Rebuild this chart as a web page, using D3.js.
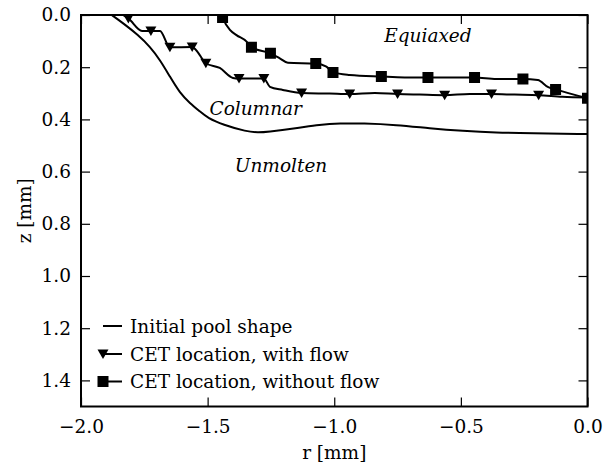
<!DOCTYPE html>
<html>
<head>
<meta charset="utf-8">
<script src="https://d3js.org/d3.v7.min.js"></script>
<style>
  body { margin: 0; background: #fff; }
  svg text { font-family: "DejaVu Serif", serif; fill: #000; }
</style>
</head>
<body>
<script>
// initial pool shape
var poolR = [-1.879, -1.833, -1.774, -1.728, -1.688, -1.649, -1.609, -1.570, -1.530, -1.499, -1.440, -1.346, -1.300, -1.267, -1.149, -1.057, -0.978, -0.888, -0.755, -0.623, -0.493, -0.360, -0.229, 0.0]
var poolZ = [0.000, 0.032, 0.077, 0.121, 0.172, 0.236, 0.300, 0.338, 0.370, 0.395, 0.420, 0.447, 0.450, 0.448, 0.434, 0.420, 0.415, 0.415, 0.421, 0.434, 0.444, 0.451, 0.453, 0.456]

// CET with flow (line + triangle markers)
var flowR = [-1.834, -1.813, -1.759, -1.724, -1.688, -1.649, -1.561, -1.546, -1.507, -1.452, -1.400, -1.376, -1.278, -1.254, -1.203, -1.129, -1.018, -0.939, -0.840, -0.750, -0.663, -0.564, -0.465, -0.379, -0.288, -0.193, -0.099, 0.0]
var flowZ = [0.000, 0.013, 0.061, 0.061, 0.061, 0.124, 0.123, 0.134, 0.185, 0.203, 0.241, 0.243, 0.243, 0.275, 0.287, 0.299, 0.301, 0.303, 0.299, 0.303, 0.305, 0.307, 0.303, 0.303, 0.305, 0.307, 0.313, 0.316]
var flowMarkR = [-1.813, -1.724, -1.649, -1.561, -1.507, -1.376, -1.278, -1.129, -0.939, -0.750, -0.564, -0.379, -0.193, 0.0]
var flowMarkZ = [0.013, 0.061, 0.124, 0.123, 0.185, 0.243, 0.243, 0.299, 0.303, 0.303, 0.307, 0.303, 0.307, 0.316]

// CET without flow (line + square markers)
var noflowR = [-1.445, -1.441, -1.412, -1.386, -1.346, -1.327, -1.252, -1.215, -1.183, -1.073, -1.031, -1.005, -0.939, -0.814, -0.722, -0.630, -0.544, -0.446, -0.360, -0.255, -0.196, -0.157, -0.126, 0.0]
var noflowZ = [0.000, 0.010, 0.057, 0.077, 0.102, 0.124, 0.147, 0.166, 0.183, 0.186, 0.198, 0.220, 0.230, 0.236, 0.239, 0.239, 0.239, 0.239, 0.245, 0.245, 0.249, 0.275, 0.285, 0.319]
var noflowMarkR = [-1.441, -1.327, -1.252, -1.073, -1.005, -0.814, -0.630, -0.446, -0.255, -0.126, 0.0]
var noflowMarkZ = [0.010, 0.124, 0.147, 0.186, 0.220, 0.236, 0.239, 0.239, 0.245, 0.285, 0.319]

var xTicks = [-2.0, -1.5, -1.0, -0.5, 0.0]
var yTicks = [0.0, 0.2, 0.4, 0.6, 0.8, 1.0, 1.2, 1.4]

var regionLabels = ["Equiaxed", "Columnar", "Unmolten"]
var regionR = [-0.63, -1.31, -1.21]
var regionZ = [0.077, 0.36, 0.575]

var legendLabels = ["Initial pool shape", "CET location, with flow", "CET location, without flow"]

var width = 603
var height = 466
var pL = 81, pR = 587.5, pT = 15, pB = 406.5
var fs = 18.5

var x = d3.scaleLinear().domain([-2.0, 0.0]).range([pL, pR])
var y = d3.scaleLinear().domain([0.0, 1.5]).range([pT, pB])

var svg = d3.select("body").append("svg")
  .attr("width", width)
  .attr("height", height)

svg.append("defs").append("clipPath").attr("id", "plot")
  .append("rect")
  .attr("x", pL).attr("y", pT)
  .attr("width", pR - pL).attr("height", pB - pT)

var fmt = d3.format(".1f")
var minus = function(v) { return fmt(v).replace("-", "\u2212") }
var tickLen = 9

// bottom + top axes, left + right axes (ticks pointing inward)
svg.append("g").attr("transform", "translate(0," + pB + ")")
  .call(d3.axisBottom(x).tickValues(xTicks).tickSizeInner(-tickLen).tickSizeOuter(0).tickPadding(13).tickFormat(minus))
svg.append("g").attr("transform", "translate(0," + pT + ")")
  .call(d3.axisTop(x).tickValues(xTicks).tickSizeInner(-tickLen).tickSizeOuter(0).tickFormat(""))
svg.append("g").attr("transform", "translate(" + pL + ",0)")
  .call(d3.axisLeft(y).tickValues(yTicks).tickSizeInner(-tickLen).tickSizeOuter(0).tickPadding(10).tickFormat(fmt))
svg.append("g").attr("transform", "translate(" + pR + ",0)")
  .call(d3.axisRight(y).tickValues(yTicks).tickSizeInner(-tickLen).tickSizeOuter(0).tickFormat(""))

svg.selectAll(".domain").remove()
svg.selectAll(".tick line").attr("stroke", "#000").attr("stroke-width", 1.2)
svg.selectAll(".tick text").attr("font-size", fs).attr("font-family", "DejaVu Serif")

// frame
svg.append("rect")
  .attr("x", pL).attr("y", pT)
  .attr("width", pR - pL).attr("height", pB - pT)
  .attr("fill", "none").attr("stroke", "#000").attr("stroke-width", 2)

var smooth = d3.line().x(function(d) { return x(d[0]) }).y(function(d) { return y(d[1]) }).curve(d3.curveMonotoneX)
var basis = d3.line().x(function(d) { return x(d[0]) }).y(function(d) { return y(d[1]) }).curve(d3.curveBasis)

var plot = svg.append("g").attr("clip-path", "url(#plot)")

plot.append("path").datum(d3.zip(poolR, poolZ))
  .attr("d", basis).attr("fill", "none").attr("stroke", "#000").attr("stroke-width", 2)
plot.append("path").datum(d3.zip(flowR, flowZ))
  .attr("d", smooth).attr("fill", "none").attr("stroke", "#000").attr("stroke-width", 2)
plot.append("path").datum(d3.zip(noflowR, noflowZ))
  .attr("d", smooth).attr("fill", "none").attr("stroke", "#000").attr("stroke-width", 2)

var tri = "M-5.5,-4.5L5.5,-4.5L0,5Z"
var sq = "M-5.5,-5.5H5.5V5.5H-5.5Z"

plot.selectAll(".tri").data(d3.zip(flowMarkR, flowMarkZ)).enter().append("path")
  .attr("class", "tri")
  .attr("d", tri)
  .attr("transform", function(d) { return "translate(" + x(d[0]) + "," + y(d[1]) + ")" })
  .attr("fill", "#000")
plot.selectAll(".sq").data(d3.zip(noflowMarkR, noflowMarkZ)).enter().append("path")
  .attr("class", "sq")
  .attr("d", sq)
  .attr("transform", function(d) { return "translate(" + x(d[0]) + "," + y(d[1]) + ")" })
  .attr("fill", "#000")

// region names
svg.selectAll(".region").data(regionLabels).enter().append("text")
  .attr("class", "region")
  .attr("x", function(d, i) { return x(regionR[i]) })
  .attr("y", function(d, i) { return y(regionZ[i]) })
  .attr("text-anchor", "middle")
  .attr("dominant-baseline", "central")
  .attr("font-size", fs)
  .attr("font-style", "italic")
  .text(function(d) { return d })

// legend
var legY = [326, 354, 381.5]
var leg = svg.append("g")
legendLabels.forEach(function(t, i) {
  leg.append("line").attr("x1", 103).attr("x2", 122).attr("y1", legY[i]).attr("y2", legY[i])
    .attr("stroke", "#000").attr("stroke-width", 2)
  if (i == 1) leg.append("path").attr("d", tri).attr("transform", "translate(103," + legY[i] + ")")
  if (i == 2) leg.append("path").attr("d", sq).attr("transform", "translate(103," + legY[i] + ")")
  leg.append("text").attr("x", 130).attr("y", legY[i])
    .attr("dominant-baseline", "central").attr("font-size", fs).text(t)
})

// axis labels
svg.append("text").attr("x", (pL + pR) / 2).attr("y", 459)
  .attr("text-anchor", "middle").attr("font-size", fs).text("r [mm]")
svg.append("text")
  .attr("transform", "translate(31," + ((pT + pB) / 2) + ") rotate(-90)")
  .attr("text-anchor", "middle").attr("font-size", fs).text("z [mm]")
</script>
</body>
</html>
